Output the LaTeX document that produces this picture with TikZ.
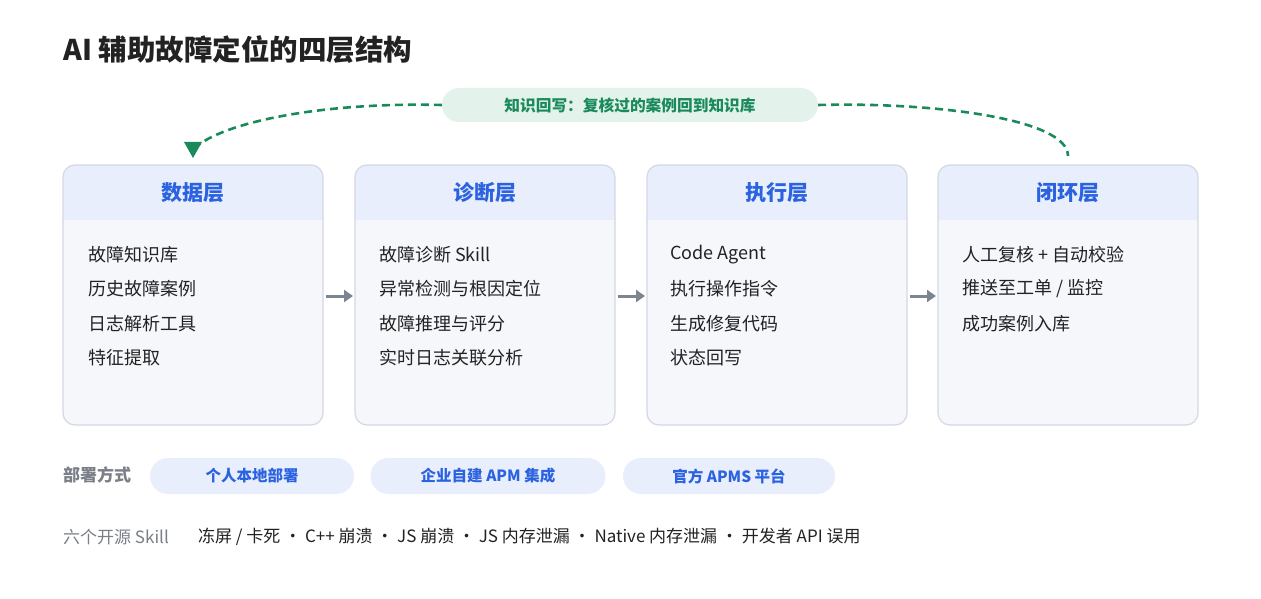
\documentclass[tikz,border=0pt]{standalone}
\usepackage{fontspec}
\setmainfont{Noto Sans CJK SC}
\usetikzlibrary{arrows.meta}
\definecolor{hdr}{HTML}{2B62E0}
\definecolor{hdrbg}{HTML}{E8EEFB}
\definecolor{boxbg}{HTML}{F5F7FB}
\definecolor{boxln}{HTML}{D3D8E2}
\definecolor{grn}{HTML}{1A8A5A}
\definecolor{grnbg}{HTML}{E3F3EC}
\definecolor{txt}{HTML}{222222}
\definecolor{gry}{HTML}{7A7F88}
\definecolor{arr}{HTML}{7D8590}
\definecolor{pill}{HTML}{E8EEFB}
\begin{document}
\begin{tikzpicture}[x=1pt,y=-1pt,
  item/.style={anchor=west,font=\fontsize{18}{21}\selectfont,text=txt,inner sep=0},
  head/.style={font=\fontsize{21}{25}\selectfont\bfseries,text=hdr},
  flow/.style={-{Triangle[length=9pt,width=12pt]},draw=arr,line width=3pt},
  dep/.style={fill=pill,rounded corners=18pt,draw=none,minimum height=36pt,font=\fontsize{15.5}{18}\selectfont\bfseries,text=hdr},
  loop/.style={draw=grn,line width=2.6pt,dash pattern=on 8pt off 5pt}]
\useasboundingbox (0,0) rectangle (1261,599);
\fill[white] (0,0) rectangle (1261,599);
\node[anchor=west,font=\fontsize{28.5}{32}\selectfont\bfseries,text=txt,inner sep=0] (title) at (63,50) {AI 辅助故障定位的四层结构};
\foreach \n/\x/\h in {b1/63/数据层,b2/355/诊断层,b3/647/执行层,b4/938/闭环层}{
  \begin{scope}
  \clip[rounded corners=12pt] (\x,165) rectangle ++(260,260);
  \fill[boxbg] (\x,165) rectangle ++(260,260);
  \fill[hdrbg] (\x,165) rectangle ++(260,55);
  \end{scope}
  \draw[boxln,line width=1.2pt,rounded corners=12pt] (\x,165) rectangle ++(260,260);
  \coordinate (\n) at (\x,165);
  \node[head] (\n h) at (\x+130,193) {\h};
}
\foreach \t [count=\i] in {故障知识库,历史故障案例,日志解析工具,特征提取}{\node[item] (a\i) at (88,220+34.5*\i) {\t};}
\foreach \t [count=\i] in {故障诊断 Skill,异常检测与根因定位,故障推理与评分,实时日志关联分析}{\node[item] (c\i) at (379,220+34.5*\i) {\t};}
\foreach \t [count=\i] in {Code Agent,执行操作指令,生成修复代码,状态回写}{\node[item] (e\i) at (670,220+34.5*\i) {\t};}
\foreach \t [count=\i] in {人工复核 + 自动校验,推送至工单 / 监控,成功案例入库}{\node[item] (f\i) at (962,220+34.5*\i) {\t};}
\coordinate (r1) at (326,296); \coordinate (l2) at (353,296);
\coordinate (r2) at (618,296); \coordinate (l3) at (645,296);
\coordinate (r3) at (910,296); \coordinate (l4) at (936,296);
\draw[flow] (r1) -- (l2);
\draw[flow] (r2) -- (l3);
\draw[flow] (r3) -- (l4);
\node[fill=grnbg,rounded corners=17pt,minimum width=376pt,minimum height=34pt,font=\fontsize{15.7}{18}\selectfont\bfseries,text=grn] (kb) at (630,105) {知识回写：复核过的案例回到知识库};
\coordinate (s4) at (1068,156);
\draw[loop] (kb.west) .. controls (330,102) and (230,120) .. (197,146);
\fill[grn] (184,142) -- (202,142) -- (193,158) -- cycle;
\draw[loop] (kb.east) .. controls (930,102) and (1068,118) .. (s4);
\node[anchor=west,font=\fontsize{17}{20}\selectfont\bfseries,text=gry,inner sep=0] (dl) at (63,475) {部署方式};
\node[dep,minimum width=204pt] (d1) at (252,476) {个人本地部署};
\node[dep,minimum width=235pt] (d2) at (488,476) {企业自建 APM 集成};
\node[dep,minimum width=212pt] (d3) at (729,476) {官方 APMS 平台};
\node[anchor=west,font=\fontsize{17}{20}\selectfont,text=gry,inner sep=0] (sl) at (63,537) {六个开源 Skill};
\node[anchor=west,font=\fontsize{17}{20}\selectfont,text=txt,inner sep=0] (sk) at (198,537) {冻屏 / 卡死 · C++ 崩溃 · JS 崩溃 · JS 内存泄漏 · Native 内存泄漏 · 开发者 API 误用};
\end{tikzpicture}
\end{document}
